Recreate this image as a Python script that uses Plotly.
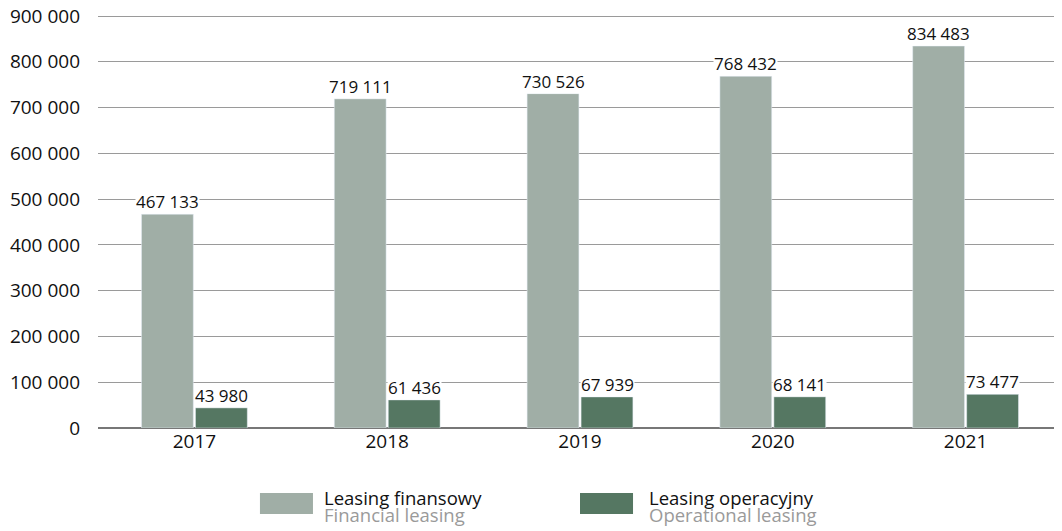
import plotly.graph_objects as go

years = ["2017", "2018", "2019", "2020", "2021"]
financial = [467133, 719111, 730526, 768432, 834483]
operational = [43980, 61436, 67939, 68141, 73477]
series_pl = ["Leasing finansowy", "Leasing operacyjny"]
series_en = ["Financial leasing", "Operational leasing"]
colors = ["#a0aea6", "#557762"]
y_ticks = list(range(0, 900001, 100000))

FONT = "Open Sans"


def fmt(v):
    return f"{v:,}".replace(",", " ")


fig = go.Figure()
fig.add_trace(go.Bar(x=years, y=financial, marker_color=colors[0], showlegend=False))
fig.add_trace(go.Bar(x=years, y=operational, marker_color=colors[1], showlegend=False))

# value labels with white background (breaks the gridline like the original)
for vals, shift in [(financial, -27), (operational, 27)]:
    for i, v in enumerate(vals):
        fig.add_annotation(
            x=i, y=v, text=fmt(v), showarrow=False, yanchor="bottom", xshift=shift, yshift=0,
            bgcolor="white", borderpad=0, font=dict(family=FONT, size=17, color="#111"),
        )

# custom legend: big swatches with two-line labels
legend_box_x = [0.168, 0.500]
legend_text_x = [0.2320, 0.5690]
for pl, en, col, bx, tx in zip(series_pl, series_en, colors, legend_box_x, legend_text_x):
    fig.add_shape(type="rect", xref="paper", yref="paper", x0=bx, x1=bx + 0.055,
                  y0=-0.2077, y1=-0.157, fillcolor=col, line_width=0)
    fig.add_annotation(xref="paper", yref="paper", x=tx, y=-0.1667, xanchor="left", yanchor="middle",
                       showarrow=False, text=pl, font=dict(family=FONT, size=18.5, color="#111"))
    fig.add_annotation(xref="paper", yref="paper", x=tx, y=-0.2101, xanchor="left", yanchor="middle",
                       showarrow=False, text=en, font=dict(family=FONT, size=18.5, color="#9a9a9a"))

fig.update_layout(
    width=1054, height=523,
    margin=dict(l=90, r=0, t=6, b=103),
    barmode="group", bargap=0.44, bargroupgap=0.04,
    plot_bgcolor="white", paper_bgcolor="white",
    font=dict(family=FONT, size=19, color="#111"),
)
fig.update_xaxes(type="category", categoryorder="array", categoryarray=years, automargin=False,
                 showgrid=False, ticks="", showline=False, tickfont=dict(size=19))
fig.update_yaxes(
    range=[0, 904500], tickvals=y_ticks, ticktext=[fmt(t) for t in y_ticks], automargin=False,
    showgrid=True, gridcolor="#9a9a9a", gridwidth=1,
    zeroline=True, zerolinecolor="#777", zerolinewidth=1.5,
    ticklabelstandoff=17, ticklabeloverflow="allow", tickfont=dict(size=19),
)

fig.write_html("out.html")
